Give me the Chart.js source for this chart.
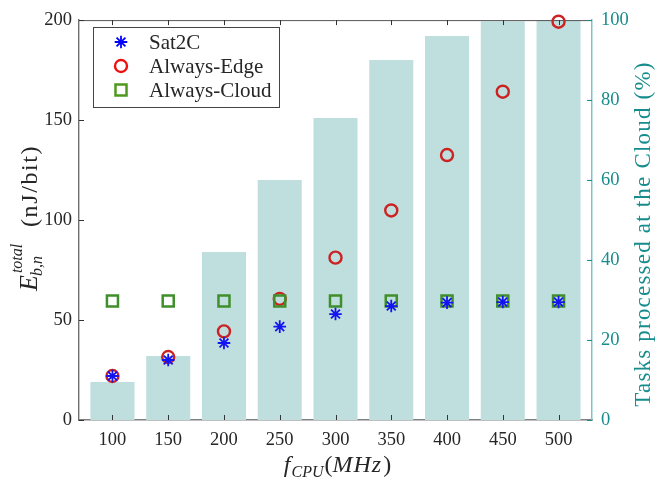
<!DOCTYPE html>
<html><head><meta charset="utf-8">
<script src="https://cdn.jsdelivr.net/npm/chart.js@4/dist/chart.umd.min.js"></script>
<style>html,body{margin:0;padding:0;background:#fff}canvas{display:block}</style>
</head><body>
<canvas id="c" width="656" height="479"></canvas>
<script>
const freqs = [100, 150, 200, 250, 300, 350, 400, 450, 500];
const cloudTasksPct = [9.5, 16, 42, 60, 75.5, 90, 96, 99.7, 100];
const sat2c = [22, 30, 38.5, 46.7, 53, 57, 58.7, 59, 59];
const alwaysEdge = [22, 31.5, 44.3, 60.6, 81.2, 104.8, 132.5, 164.2, 199.2];
const alwaysCloud = [59.5, 59.5, 59.5, 59.5, 59.5, 59.5, 59.5, 59.5, 59.5];
const leftTicks = [0, 50, 100, 150, 200];
const rightTicks = [0, 20, 40, 60, 80, 100];
const seriesNames = ['Sat2C', 'Always-Edge', 'Always-Cloud'];

const SERIF = '"Liberation Serif", "Times New Roman", serif';
const TEAL = '#178c8c';
const DARK = '#262626';

const pts = arr => freqs.map((f, i) => ({x: f, y: arr[i]}));

const axesPlugin = {
  id: 'axesDecor',
  afterDatasetDraw(chart, args) {
    if (args.index !== 0) return;
    const ctx = chart.ctx, a = chart.chartArea;
    const x = chart.scales.x, y = chart.scales.y, y2 = chart.scales.y2;
    ctx.save();
    ctx.strokeStyle = '#555';
    ctx.lineWidth = 1;
    ctx.beginPath(); ctx.moveTo(a.left, a.top + 0.5); ctx.lineTo(a.right, a.top + 0.5); ctx.stroke();
    const L = 5;
    ctx.strokeStyle = '#333'; ctx.lineWidth = 1;
    ctx.beginPath();
    freqs.forEach(v => {
      const px = Math.round(x.getPixelForValue(v)) + 0.5;
      ctx.moveTo(px, a.bottom); ctx.lineTo(px, a.bottom - L);
      ctx.moveTo(px, a.top); ctx.lineTo(px, a.top + L);
    });
    leftTicks.forEach(v => {
      const py = Math.round(y.getPixelForValue(v)) + 0.5;
      ctx.moveTo(a.left, py); ctx.lineTo(a.left + L, py);
    });
    ctx.stroke();
    ctx.strokeStyle = TEAL;
    ctx.beginPath();
    rightTicks.forEach(v => {
      const py = Math.round(y2.getPixelForValue(v)) + 0.5;
      ctx.moveTo(a.right, py); ctx.lineTo(a.right - L, py);
    });
    ctx.stroke();
    ctx.restore();
  },
  afterDraw(chart) {
    const ctx = chart.ctx, a = chart.chartArea;
    ctx.save();
    ctx.translate(37, 291);
    ctx.rotate(-Math.PI / 2);
    ctx.fillStyle = DARK;
    ctx.textBaseline = 'alphabetic';
    ctx.textAlign = 'left';
    ctx.font = 'italic 26px ' + SERIF;
    ctx.fillText('E', 0, 0);
    const wE = ctx.measureText('E').width;
    ctx.font = 'italic 16px ' + SERIF;
    ctx.fillText('total', wE + 2, -15);
    ctx.fillText('b,n', wE - 1, 5);
    ctx.font = '24px ' + SERIF;
    ctx.letterSpacing = '1.6px';
    ctx.fillText('(nJ/bit)', 64, 0);
    ctx.restore();

    ctx.save();
    ctx.translate(650, 234);
    ctx.rotate(-Math.PI / 2);
    ctx.fillStyle = TEAL;
    ctx.textAlign = 'center';
    ctx.textBaseline = 'alphabetic';
    ctx.font = '23px ' + SERIF;
    ctx.letterSpacing = '1.2px';
    ctx.fillText('Tasks processed at the Cloud (%)', 0, 0);
    ctx.restore();

    ctx.save();
    ctx.fillStyle = DARK;
    ctx.textBaseline = 'alphabetic';
    ctx.textAlign = 'left';
    const parts = [
      {t: 'f', f: 'italic 24px ' + SERIF, dy: 0, pad: 1},
      {t: 'CPU', f: 'italic 16px ' + SERIF, dy: 5, pad: 1},
      {t: '(', f: '24px ' + SERIF, dy: 0, pad: 0},
      {t: 'MHz', f: 'italic 24px ' + SERIF, dy: 0, pad: 1, ls: '1px'},
      {t: ')', f: '24px ' + SERIF, dy: 0, pad: 0}
    ];
    let tot = 0;
    parts.forEach(p => { ctx.font = p.f; ctx.letterSpacing = p.ls || '0px'; p.w = ctx.measureText(p.t).width + p.pad; tot += p.w; });
    let cx = (a.left + a.right) / 2 + 2 - tot / 2;
    parts.forEach(p => { ctx.font = p.f; ctx.letterSpacing = p.ls || '0px'; ctx.fillText(p.t, cx, 472 + p.dy); cx += p.w; });
    ctx.restore();

    ctx.save();
    ctx.fillStyle = '#fff';
    ctx.fillRect(93, 27, 186, 80);
    ctx.strokeStyle = '#444';
    ctx.lineWidth = 1;
    ctx.strokeRect(93.5, 27.5, 186, 80);
    const ds = chart.data.datasets.filter(d => d.type === 'scatter');
    ds.forEach((d, i) => {
      const yy = 42 + i * 24;
      ctx.strokeStyle = d.legendColor || d.borderColor;
      ctx.fillStyle = 'rgba(0,0,0,0)';
      ctx.lineWidth = d.borderWidth;
      Chart.helpers.drawPoint(ctx, {pointStyle: d.pointStyle, radius: d.pointRadius, borderWidth: d.borderWidth, rotation: 0}, 121, yy);
      ctx.fillStyle = DARK;
      ctx.font = '21px ' + SERIF;
      ctx.textBaseline = 'middle';
      ctx.textAlign = 'left';
      ctx.fillText(d.label, 149, yy + 1);
    });
    ctx.restore();
  }
};

new Chart(document.getElementById('c'), {
  type: 'bar',
  data: {
    datasets: [
      {
        type: 'bar', label: 'Tasks at Cloud', data: pts(cloudTasksPct), yAxisID: 'y2',
        backgroundColor: '#bfdfdf', borderWidth: 0, barPercentage: 0.79, categoryPercentage: 1, order: 10
      },
      {
        type: 'scatter', label: seriesNames[0], data: pts(sat2c), yAxisID: 'y',
        pointStyle: 'star', pointRadius: 6.3, borderWidth: 1.8, borderColor: '#1414f0', legendColor: '#0000ff',
        backgroundColor: 'rgba(0,0,0,0)', showLine: false, order: 1, clip: false
      },
      {
        type: 'scatter', label: seriesNames[1], data: pts(alwaysEdge), yAxisID: 'y',
        pointStyle: 'circle', pointRadius: 6, borderWidth: 2.4, borderColor: '#cc2222', legendColor: '#ee1111',
        backgroundColor: 'rgba(0,0,0,0)', showLine: false, order: 3, clip: false
      },
      {
        type: 'scatter', label: seriesNames[2], data: pts(alwaysCloud), yAxisID: 'y',
        pointStyle: 'rect', pointRadius: 7.8, borderWidth: 2.5, borderColor: '#3f8f2a', legendColor: '#4f9a1e',
        backgroundColor: 'rgba(0,0,0,0)', showLine: false, order: 2, clip: false
      }
    ]
  },
  options: {
    responsive: false,
    devicePixelRatio: 1,
    animation: false,
    events: [],
    layout: {padding: {top: 14, left: 0, right: 0, bottom: 0}},
    plugins: {legend: {display: false}, tooltip: {enabled: false}, title: {display: false}},
    scales: {
      x: {
        type: 'linear', position: 'bottom', min: 70, max: 530, offset: false,
        afterBuildTicks: s => { s.ticks = freqs.map(v => ({value: v})); },
        afterFit: s => { s.height = 59; },
        grid: {display: false, drawTicks: false, offset: false},
        border: {display: true, color: '#808080', width: 1.6},
        ticks: {padding: 9, color: DARK, font: {family: SERIF, size: 18.5}, maxRotation: 0, autoSkip: false}
      },
      y: {
        type: 'linear', position: 'left', min: 0, max: 200,
        afterBuildTicks: s => { s.ticks = leftTicks.map(v => ({value: v})); },
        afterFit: s => { s.width = 79; },
        grid: {display: false, drawTicks: false},
        border: {display: true, color: '#707070', width: 1.4},
        ticks: {padding: 7, color: DARK, font: {family: SERIF, size: 18.5}}
      },
      y2: {
        type: 'linear', position: 'right', min: 0, max: 100,
        afterBuildTicks: s => { s.ticks = rightTicks.map(v => ({value: v})); },
        afterFit: s => { s.width = 64; },
        grid: {display: false, drawTicks: false},
        border: {display: true, color: '#7fc4c4', width: 1.5},
        ticks: {padding: 9, color: TEAL, font: {family: SERIF, size: 18.5}}
      }
    }
  },
  plugins: [axesPlugin]
});
</script>
</body></html>
